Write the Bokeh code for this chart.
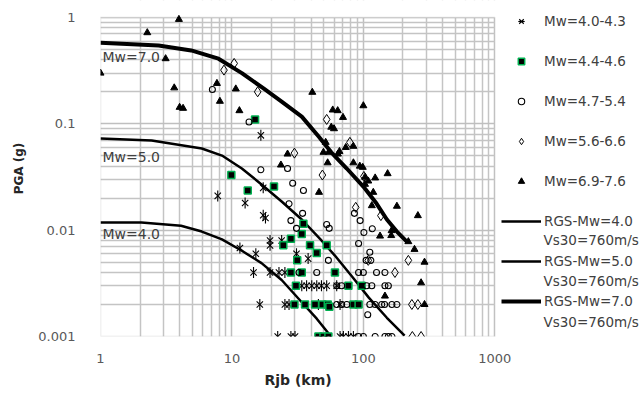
import numpy as np
from bokeh.plotting import figure
from bokeh.models import (Range1d, Legend, LegendItem, Label, CustomJSTickFormatter,
                          FixedTicker, BoxAnnotation, Title)
from bokeh.embed import file_html
from bokeh.resources import INLINE

# ---------------- data ----------------
# Mw = 4.0-4.3 (asterisks)
ast_x = [16.6, 7.8, 12.6, 17.3, 17.3, 18.0, 11.5, 15.2, 19.5, 19.5, 23.9, 31, 38,
         14.6, 19.5, 22.8, 25.3,
         34, 37, 40.5, 44.2, 48, 52.6, 62.7,
         16.3, 25.3, 27.2, 45.5, 66.5,
         22.3, 28.1, 30.2, 66.5, 70.5, 77, 84]
ast_y = [0.078, 0.021, 0.018, 0.025, 0.0138, 0.013, 0.0068, 0.006, 0.008, 0.0072, 0.008, 0.006, 0.0054,
         0.004, 0.004, 0.004, 0.004,
         0.003, 0.003, 0.003, 0.003, 0.003, 0.003, 0.003,
         0.002, 0.002, 0.002, 0.002, 0.002,
         0.001, 0.001, 0.001, 0.001, 0.001, 0.001, 0.001]

# Mw = 4.4-4.6 (green squares)
sq_x = [15, 9.9, 13.2, 20.9, 35, 34, 28.1, 24.6, 39.3, 52.6, 44.2, 31.4,
        28.1, 34, 60.8,
        30.7, 77, 97,
        29.9, 36, 42.9, 48.8, 53.6, 84, 92, 55.1,
        45.5, 49.7, 54.2]
sq_y = [0.11, 0.033, 0.0236, 0.0257, 0.0115, 0.0092, 0.0083, 0.0072, 0.0072, 0.0072, 0.0061, 0.0052,
        0.004, 0.004, 0.004,
        0.003, 0.003, 0.003,
        0.002, 0.002, 0.002, 0.002, 0.002, 0.002, 0.002, 0.0019,
        0.001, 0.001, 0.001]

# Mw = 4.7-5.4 (open circles)
circ_x = [7.1, 13.5, 16.6, 26.5, 29, 35, 27.2, 34.5, 28.1, 31, 52.6, 55, 85.5, 94.5, 101, 117,
          112, 92, 105, 114, 54.2, 108,
          32.4, 44.2, 92, 100, 126, 146,
          62.7, 68.4, 106, 116, 146, 155,
          62.7, 68.4, 74.8, 112, 123, 138, 145, 165, 180,
          92, 100, 123, 146, 155, 165]
circ_y = [0.21, 0.104, 0.037, 0.038, 0.0276, 0.0236, 0.0177, 0.0144, 0.0123, 0.0104, 0.0113, 0.0104,
          0.0144, 0.0123, 0.0095, 0.0103,
          0.0062, 0.0075, 0.0052, 0.0052, 0.0052, 0.0016,
          0.004, 0.004, 0.004, 0.004, 0.004, 0.004,
          0.003, 0.003, 0.003, 0.003, 0.003, 0.003,
          0.002, 0.002, 0.002, 0.002, 0.002, 0.002, 0.002, 0.002, 0.002,
          0.001, 0.001, 0.001, 0.001, 0.001, 0.001]

# Mw = 5.6-6.6 (open diamonds)
dia_x = [10.4, 8.7, 15.7, 52.6, 79, 29.9, 48.8, 101, 87.5, 136, 109, 220, 174, 234, 260, 236, 275]
dia_y = [0.37, 0.32, 0.2, 0.11, 0.067, 0.053, 0.033, 0.032, 0.0164, 0.0137, 0.0052, 0.0052,
         0.004, 0.002, 0.002, 0.001, 0.001]

# Mw = 6.9-7.6 (filled triangles)
tri_x = [3.95, 2.27, 3.13, 1.0, 3.64, 4.0, 4.25, 7.69, 10.7, 8.1, 11.4, 40.9, 58.5, 63.8, 70, 100,
         57, 59.8, 51.7, 49.7, 54.4, 65.8, 73.5, 84, 64, 26.5, 23.6, 53.5, 84, 94, 99, 153,
         103, 109, 123, 46, 119, 103, 180, 116, 260, 164, 134, 163, 220, 245, 292, 275, 146, 292]
tri_y = [0.96, 0.72, 0.41, 0.3, 0.218, 0.143, 0.14, 0.24, 0.213, 0.163, 0.133, 0.198, 0.135, 0.133,
         0.115, 0.148, 0.093, 0.09, 0.067, 0.054, 0.054, 0.055, 0.06, 0.0615, 0.052, 0.052, 0.041,
         0.043, 0.043, 0.04, 0.039, 0.034, 0.0315, 0.029, 0.031, 0.0227, 0.0227, 0.027, 0.0168,
         0.017, 0.0137, 0.0099, 0.0088, 0.0089, 0.0078, 0.0066, 0.005, 0.0032, 0.0024, 0.002]

# RGS model curves, Vs30 = 760 m/s
rgs4_x = [1, 2.05, 4.1, 5.9, 8.4, 11.9, 16.8, 23.9, 34, 44.2, 54.6, 57]
rgs4_y = [0.0118, 0.0118, 0.011, 0.0097, 0.0082, 0.0064, 0.0049, 0.0034, 0.0021, 0.00147, 0.00106, 0.001]
rgs5_x = [1, 2.45, 5.9, 8.4, 11.9, 16.8, 23.9, 34, 48, 60.5, 82, 110, 151, 206]
rgs5_y = [0.0728, 0.0696, 0.0586, 0.0503, 0.038, 0.0269, 0.0186, 0.0126, 0.008, 0.0058, 0.00366,
          0.00232, 0.0015, 0.00102]
rgs7_x = [1, 2.77, 4.9, 7.9, 11.9, 17.4, 23.9, 34, 45.7, 57, 74.8, 100, 126, 151, 180, 214]
rgs7_y = [0.58, 0.545, 0.49, 0.41, 0.30, 0.215, 0.162, 0.117, 0.076, 0.054, 0.038, 0.0257, 0.0178,
          0.0126, 0.0097, 0.0078]

x_ticks = [1, 10, 100, 1000]
y_ticks = [0.001, 0.01, 0.1, 1]
legend_labels = ["Mw=4.0-4.3", "Mw=4.4-4.6", "Mw=4.7-5.4", "Mw=5.6-6.6", "Mw=6.9-7.6",
                 "RGS-Mw=4.0", "RGS-Mw=5.0", "RGS-Mw=7.0"]
vs30_label = "Vs30=760m/s"

FONT = "DejaVu Sans"

# ---------------- layout geometry (pixels) ----------------
W, H = 643, 394
LEFT, BOTTOM = 99, 58          # chart box: x 99..494, y 17..336
X_DECADE = (494 - 99) / 3.0
Y_DECADE = (336 - 17) / 3.0
x_end = 10 ** ((W - LEFT) / X_DECADE)          # frame extends right to hold the legend
y_end = 10 ** ((H - BOTTOM) / Y_DECADE - 3)    # frame extends up to the canvas top

p = figure(width=W, height=H, x_axis_type="log", y_axis_type="log",
           x_range=Range1d(1, x_end), y_range=Range1d(0.001, y_end),
           output_backend="svg", toolbar_location=None,
           min_border_left=LEFT, min_border_right=0, min_border_top=0, min_border_bottom=BOTTOM)

p.outline_line_color = None
p.background_fill_color = "white"
p.border_fill_color = "white"

minor = [m * 10.0 ** e for e in range(-3, 3) for m in range(2, 10)]
p.xaxis.ticker = FixedTicker(ticks=x_ticks, minor_ticks=minor)
p.yaxis.ticker = FixedTicker(ticks=y_ticks, minor_ticks=[m for m in minor if m < 1])
fmt = CustomJSTickFormatter(code="""
if (tick >= 1) { return tick.toFixed(0); }
return tick.toFixed(Math.round(-Math.log10(tick)));
""")
p.xaxis.formatter = fmt
p.yaxis.formatter = fmt

for ax in (p.xaxis, p.yaxis):
    ax.axis_line_color = None
    ax.major_tick_line_color = None
    ax.minor_tick_line_color = None
    ax.major_label_text_font = FONT
    ax.major_label_text_font_size = "13px"
    ax.major_label_text_color = "#595959"
p.xaxis.major_label_standoff = 11
p.yaxis.major_label_standoff = 19

for g in (p.xgrid, p.ygrid):
    g.grid_line_color = "#bfbfbf"
    g.grid_line_width = 1.5
    g.minor_grid_line_color = "#c4c4c4"
    g.minor_grid_line_width = 1.5

# hide the grid outside the chart box, then draw the chart border
p.add_layout(BoxAnnotation(left=1000, fill_color="white", fill_alpha=1, line_alpha=0,
                           level="underlay"))
p.add_layout(BoxAnnotation(bottom=1, fill_color="white", fill_alpha=1, line_alpha=0,
                           level="underlay"))
p.add_layout(BoxAnnotation(left=1, right=1000, bottom=0.001, top=1, fill_alpha=0,
                           line_color="#a6a6a6", line_width=1.5, level="underlay"))

# axis titles
p.add_layout(Title(text="Rjb (km)", align="left", offset=164, standoff=9,
                   text_font=FONT, text_font_size="14px", text_font_style="bold",
                   text_color="#262626"), "below")
p.add_layout(Title(text="PGA (g)", align="center", offset=-8, standoff=19,
                   text_font=FONT, text_font_size="12px", text_font_style="bold",
                   text_color="#262626"), "left")

# curves
l4 = p.line(rgs4_x, rgs4_y, line_color="black", line_width=2.5)
l5 = p.line(rgs5_x, rgs5_y, line_color="black", line_width=2.5)
l7 = p.line(rgs7_x, rgs7_y, line_color="black", line_width=4)

# scatter
r_ax = p.scatter(ast_x, ast_y, marker="x", size=9, line_color="black", line_width=1.1)
r_ad = p.scatter(ast_x, ast_y, marker="dash", angle=np.pi / 2, size=11, line_color="black",
                 line_width=1.1)
r_sq = p.scatter(sq_x, sq_y, marker="square", size=7, fill_color="black",
                 line_color="#00b050", line_width=1.5)
r_ci = p.scatter(circ_x, circ_y, marker="circle", size=6, fill_color=None,
                 line_color="black", line_width=1.1)
r_di = p.scatter(dia_x, dia_y, marker="diamond", size=10, fill_color=None,
                 line_color="black", line_width=1.0)
r_tr = p.scatter(tri_x, tri_y, marker="triangle", size=7, fill_color="black",
                 line_color="black")

# curve labels
for txt, yv in (("Mw=7.0", 0.423), ("Mw=5.0", 0.0485), ("Mw=4.0", 0.0092)):
    p.add_layout(Label(x=1, y=yv, text=txt, x_offset=2, text_baseline="middle",
                       text_font=FONT, text_font_size="14px", text_color="#404040"))

renders = [[r_ax, r_ad], [r_sq], [r_ci], [r_di], [r_tr], [l4], [l5], [l7]]
leg = Legend(items=[LegendItem(label=lab, renderers=rs) for lab, rs in zip(legend_labels, renders)],
             location=(401, 27), glyph_width=40, glyph_height=16, label_height=16,
             spacing=24, padding=0, margin=0, label_standoff=3,
             border_line_color=None, background_fill_alpha=0,
             label_text_font=FONT, label_text_font_size="13.5px", label_text_color="#404040")
p.add_layout(leg)

# second line of the curve legend labels
for ys in (97, 56, 15):
    p.add_layout(Label(x=443, y=ys, x_units="screen", y_units="screen", text=vs30_label,
                       text_baseline="middle", text_font=FONT, text_font_size="13.5px",
                       text_color="#404040"))

open("out.html", "w").write(file_html(p, INLINE))
